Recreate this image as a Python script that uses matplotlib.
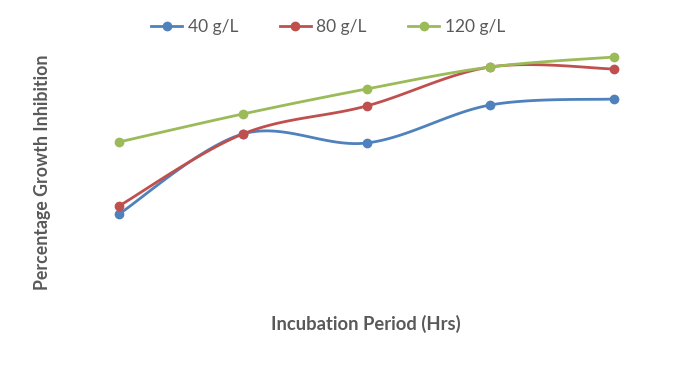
import numpy as np
import matplotlib.pyplot as plt

# ---------- data (arbitrary % scale) ----------
periods = ["24", "48", "72", "96", "120"]
series_names = ["40 g/L", "80 g/L", "120 g/L"]
inhib_40 = [30.4, 62.4, 58.8, 74.0, 76.4]
inhib_80 = [33.6, 62.4, 73.6, 89.2, 88.4]
inhib_120 = [59.2, 70.4, 80.4, 89.2, 93.2]
colors = ["#4F81BD", "#C0504D", "#9BBB59"]


def smooth(xs, ys, n=30):
    """Catmull-Rom curve through the points (like Excel smoothed lines)."""
    xs = np.asarray(xs, float)
    ys = np.asarray(ys, float)
    px = np.concatenate([[xs[0]], xs, [xs[-1]]])
    py = np.concatenate([[ys[0]], ys, [ys[-1]]])
    out_x, out_y = [], []
    t = np.linspace(0, 1, n)
    for i in range(1, len(px) - 2):
        p0x, p1x, p2x, p3x = px[i - 1:i + 3]
        p0y, p1y, p2y, p3y = py[i - 1:i + 3]
        # bezier control points
        c1x, c1y = p1x + (p2x - p0x) / 6, p1y + (p2y - p0y) / 6
        c2x, c2y = p2x - (p3x - p1x) / 6, p2y - (p3y - p1y) / 6
        bx = (1 - t) ** 3 * p1x + 3 * (1 - t) ** 2 * t * c1x + 3 * (1 - t) * t ** 2 * c2x + t ** 3 * p2x
        by = (1 - t) ** 3 * p1y + 3 * (1 - t) ** 2 * t * c1y + 3 * (1 - t) * t ** 2 * c2y + t ** 3 * p2y
        out_x.extend(bx)
        out_y.extend(by)
    return out_x, out_y


plt.rcParams['font.family'] = ['Lato', 'DejaVu Sans']

fig = plt.figure(figsize=(6.75, 3.66), dpi=100)
ax = fig.add_axes([70 / 675, 76 / 366, 593 / 675, 250 / 366])

x = np.arange(len(periods))
for name, vals, c in zip(series_names, [inhib_40, inhib_80, inhib_120], colors):
    sx, sy = smooth(x, vals)
    ax.plot(sx, sy, color=c, lw=2, solid_capstyle='round')
    ax.plot(x, vals, 'o', color=c, markersize=6, label=name)

# legend handles with line + marker
handles = [plt.Line2D([], [], color=c, lw=2, marker='o', markersize=6) for c in colors]
fig.legend(handles, series_names, loc='center', bbox_to_anchor=(328 / 675, 1 - 27 / 366),
           ncol=3, frameon=False, fontsize=12.5, handlelength=1.8, handletextpad=0.3,
           columnspacing=2.4, labelcolor='#595959')

ax.set_xlim(-0.396, 4.396)
ax.set_ylim(0, 100)
ax.set_xticks([])
ax.set_yticks([])
for s in ax.spines.values():
    s.set_visible(False)

fig.text(366 / 675, 1 - 324 / 366, "Incubation Period (Hrs)", ha='center', va='center',
         fontsize=13.2, fontweight='bold', color='#595959')
fig.text(43 / 675, 1 - 172 / 366, "Percentage Growth Inhibition", ha='center', va='center',
         rotation=90, fontsize=12.8, fontweight='bold', color='#595959')

fig.savefig("out.png", dpi=100)
